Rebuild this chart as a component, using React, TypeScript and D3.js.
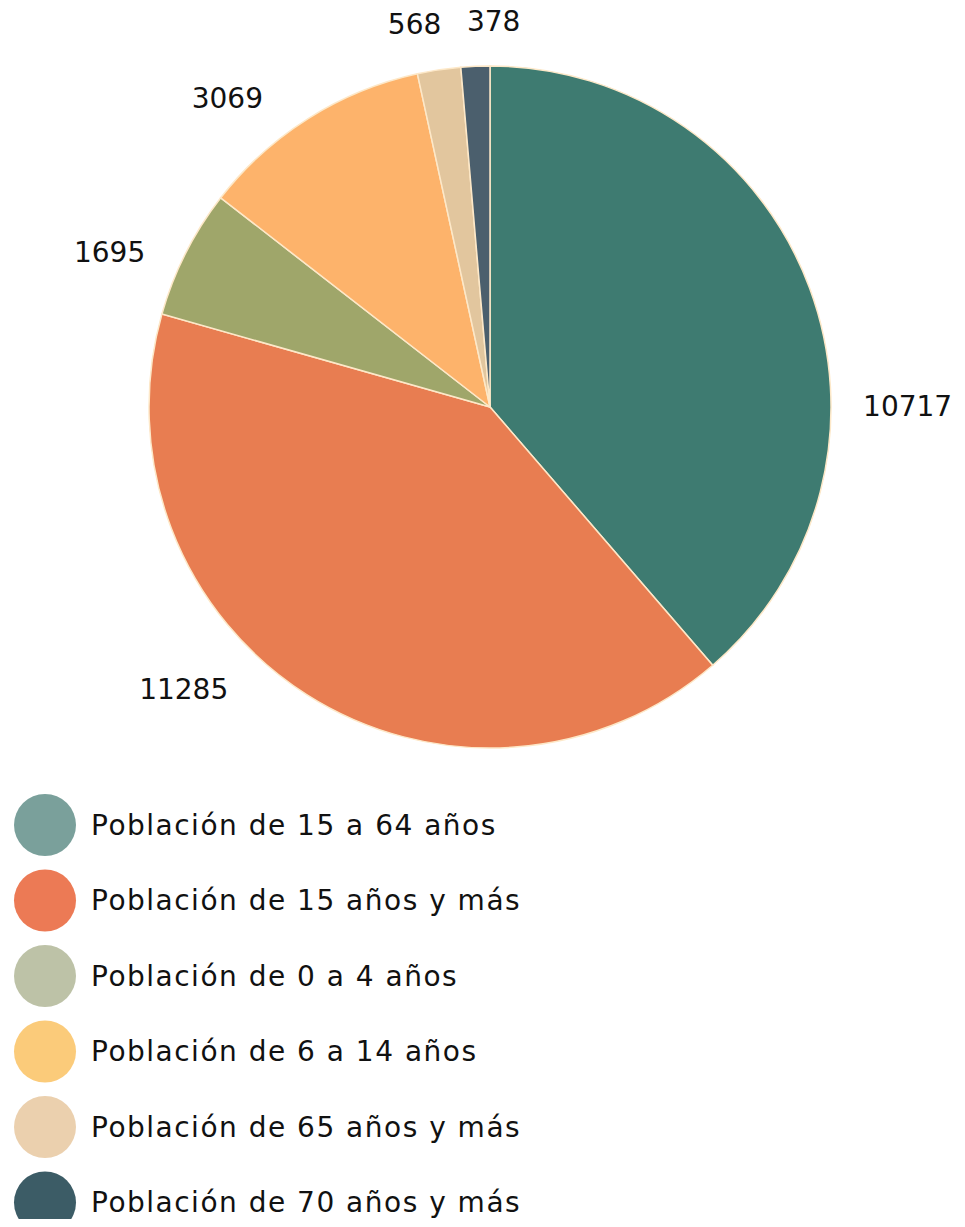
import React, { useEffect, useRef } from "react";
import * as d3 from "d3";

const categories = [
  "Población de 15 a 64 años",
  "Población de 15 años y más",
  "Población de 0 a 4 años",
  "Población de 6 a 14 años",
  "Población de 65 años y más",
  "Población de 70 años y más",
];
const values = [10717, 11285, 1695, 3069, 568, 378];
const sliceColors = ["#3e7b71", "#e87d51", "#9fa66a", "#fdb36b", "#e2c69e", "#4b5f6d"];
const legendColors = ["#7aa09b", "#ec7a55", "#bdc2a7", "#fbcb7a", "#ebd0ae", "#3c5c66"];

const W = 965;
const H = 1227;
const FONT = "'DejaVu Sans', sans-serif";

export default function App() {
  const ref = useRef<SVGSVGElement>(null);

  useEffect(() => {
    const svg = d3.select(ref.current);
    svg.selectAll("*").remove();

    const cx = 490,
      cy = 407,
      r = 341;

    const pie = d3
      .pie<number>()
      .sort(null)
      .value((d) => d);
    const arcs = pie(values);
    const arc = d3.arc<d3.PieArcDatum<number>>().innerRadius(0).outerRadius(r);

    const g = svg.append("g").attr("transform", `translate(${cx},${cy})`);

    g.selectAll("path")
      .data(arcs)
      .join("path")
      .attr("d", arc)
      .attr("fill", (d, i) => sliceColors[i])
      .attr("stroke", "#fde8c8")
      .attr("stroke-width", 1.5);

    // label layout: nudge the angle a bit, as the original layout does
    const nudge = [20, 15, -4.5, -8, -2.5, 3];
    g.selectAll("text.lbl")
      .data(arcs)
      .join("text")
      .attr("class", "lbl")
      .text((d) => String(d.data))
      .attr("font-family", FONT)
      .attr("font-size", 28)
      .attr("fill", "#111")
      .attr("text-anchor", "middle")
      .attr("dominant-baseline", "central")
      .each(function (d, i) {
        const el = this as SVGTextElement;
        const w = el.getComputedTextLength();
        const a = (d.startAngle + d.endAngle) / 2 + (nudge[i] * Math.PI) / 180;
        const dist = r + 32 + (w / 2) * Math.abs(Math.sin(a)) + 14 * Math.abs(Math.cos(a));
        d3.select(el)
          .attr("x", dist * Math.sin(a))
          .attr("y", -dist * Math.cos(a) + 2);
      });

    const legend = svg
      .append("g")
      .selectAll("g")
      .data(categories)
      .join("g")
      .attr("transform", (d, i) => `translate(45, ${825 + i * 75.5})`);

    legend
      .append("circle")
      .attr("r", 31)
      .attr("fill", (d, i) => legendColors[i]);

    legend
      .append("text")
      .attr("x", 46)
      .attr("dominant-baseline", "central")
      .attr("font-family", FONT)
      .attr("font-size", 28)
      .attr("letter-spacing", 1.5)
      .attr("fill", "#111")
      .text((d) => d);
  }, []);

  return <svg ref={ref} width={W} height={H} style={{ display: "block", margin: "-8px" }} />;
}
